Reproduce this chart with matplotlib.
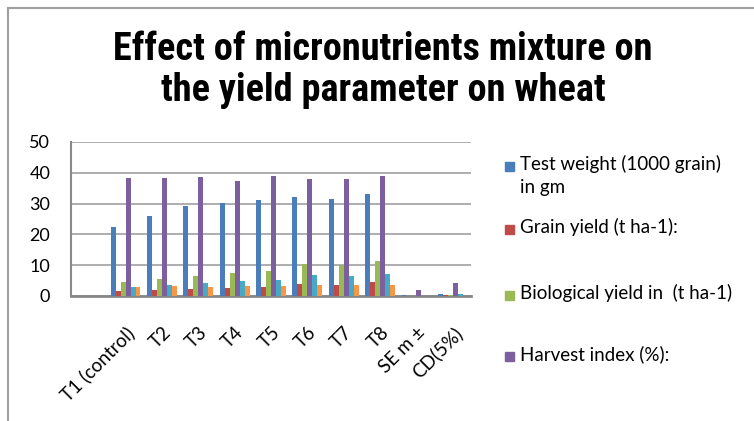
import numpy as np
import matplotlib
matplotlib.use("Agg")
import matplotlib.pyplot as plt
from matplotlib.patches import Rectangle

# categories (first one is blank in the source sheet)
categories = ['', 'T1 (control)', 'T2', 'T3', 'T4', 'T5', 'T6', 'T7', 'T8', 'SE m \u00b1', 'CD(5%)']

# series values
test_weight = [np.nan, 22.5, 26.0, 29.2, 30.1, 31.1, 32.0, 31.5, 33.2, 0.4, 0.8]
grain_yield = [np.nan, 1.5, 1.9, 2.4, 2.7, 3.0, 3.9, 3.6, 4.5, 0.1, 0.2]
bio_yield = [np.nan, 4.4, 5.5, 6.6, 7.4, 8.2, 10.5, 10.0, 11.4, 0.1, 0.3]
harvest_index = [np.nan, 38.3, 38.3, 38.7, 37.5, 39.0, 38.1, 37.9, 39.0, 2.0, 4.2]
series5 = [np.nan, 2.9, 3.5, 4.1, 4.9, 5.3, 6.7, 6.4, 7.1, 0.1, 0.6]
series6 = [np.nan, 3.0, 3.3, 3.0, 3.2, 3.2, 3.5, 3.5, 3.6, 0.05, 0.1]

series = [test_weight, grain_yield, bio_yield, harvest_index, series5, series6]
colors = ['#4a7ebb', '#be4b48', '#98b954', '#7d5fa0', '#46aac5', '#f79646']
legend_labels = ['Test weight (1000 grain)\nin gm', 'Grain yield (t ha-1):',
                 'Biological yield in  (t ha-1)', 'Harvest index (%):']

W, H = 754, 421
fig = plt.figure(figsize=(W / 100, H / 100), dpi=100)
ax = fig.add_axes([71 / W, (H - 296) / H, 400 / W, 154 / H])

x = np.arange(len(categories))
bw = 0.137
for i, (vals, c) in enumerate(zip(series, colors)):
    ax.bar(x + (i - 2.5) * bw, vals, width=bw, color=c, zorder=3)

ax.set_xlim(-0.5, len(categories) - 0.5)
ax.set_ylim(0, 50)
ax.set_yticks(range(0, 51, 10))
ax.yaxis.grid(True, color='#a0a0a0', linewidth=1.2, zorder=0)
ax.set_xticks(x)
ax.set_xticklabels(categories, rotation=45, ha='right', rotation_mode='anchor',
                   fontsize=13.5, family='Lato')
for lab in ax.get_yticklabels():
    lab.set_family('Lato')
    lab.set_fontsize(13)
ax.tick_params(axis='y', length=0, pad=15)
ax.tick_params(axis='x', length=0, pad=20)
for s in ['top', 'right']:
    ax.spines[s].set_visible(False)
ax.spines['left'].set_color('#888888')
ax.spines['left'].set_linewidth(1.5)
ax.spines['bottom'].set_color('#888888')
ax.spines['bottom'].set_linewidth(2)

title_fonts = ['Liberation Sans Narrow', 'Roboto Condensed', 'Archivo Narrow', 'DejaVu Sans']
fig.text(383 / W, 1 - 70 / H, 'Effect of micronutrients mixture on\nthe yield parameter on wheat',
         ha='center', va='center', fontsize=27.5, fontweight='bold',
         family=title_fonts, linespacing=1.15)

# legend drawn by hand (only first four entries are visible)
ys = [166, 229, 295, 356]
for y, c, lab in zip(ys, colors, legend_labels):
    fig.patches.append(Rectangle((505 / W, 1 - (y + 5) / H), 9 / W, 9 / H,
                                 transform=fig.transFigure, color=c))
    fig.text(520 / W, 1 - (y - 11) / H, lab, ha='left', va='top', fontsize=13.5,
             family='Lato', linespacing=1.45)

# chart area border
fig.add_artist(plt.Line2D([8 / W, 8 / W], [0, 1 - 8 / H], transform=fig.transFigure,
                          color='#a0a0a0', linewidth=1.5))
fig.add_artist(plt.Line2D([8 / W, 1], [1 - 8 / H, 1 - 8 / H], transform=fig.transFigure,
                          color='#a0a0a0', linewidth=1.5))

fig.savefig('out.png', dpi=100)
